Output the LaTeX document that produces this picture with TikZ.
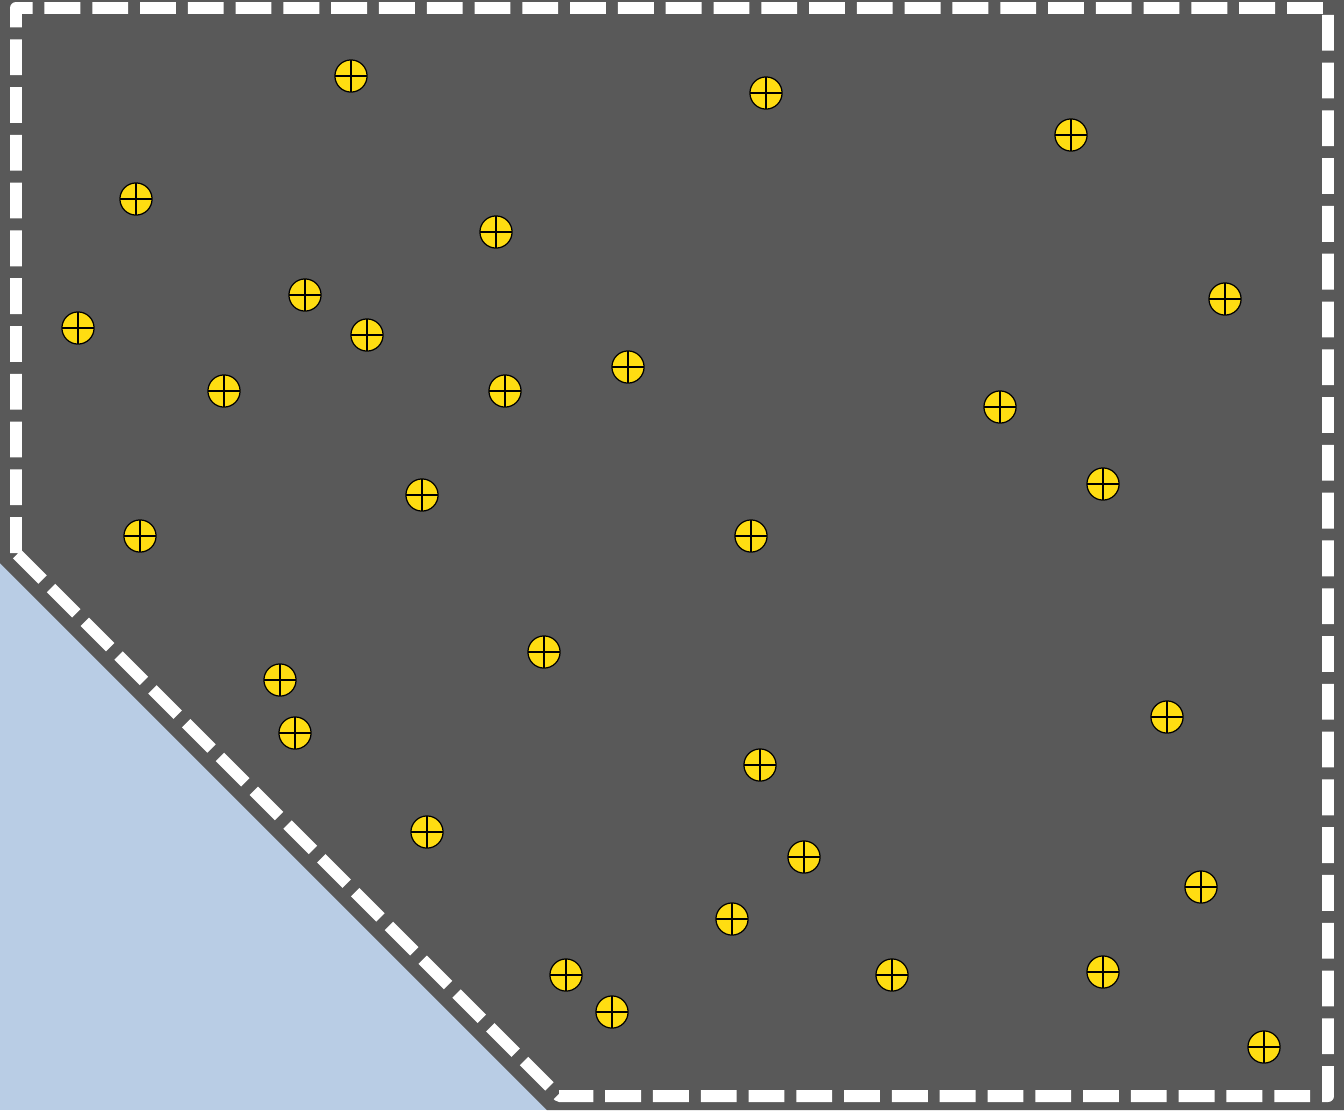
\documentclass[tikz,border=0pt]{standalone}
\usepackage{xcolor}

\definecolor{sitegray}{HTML}{595959}
\definecolor{waterblue}{HTML}{B9CDE5}
\definecolor{treeyellow}{HTML}{FFDD11}

\tikzset{
  tree/.style={circle,draw=black,line width=0.7pt,fill=treeyellow,
    minimum size=18.3pt,inner sep=0pt,
    path picture={
      \draw[line width=0.7pt] (path picture bounding box.north) -- (path picture bounding box.south);
      \draw[line width=0.7pt] (path picture bounding box.west) -- (path picture bounding box.east);
    }},
  fence/.style={draw=white,line width=6.8pt,dash pattern=on 20.4pt off 6.8pt,line join=round}
}

\begin{document}
\begin{tikzpicture}[x=0.02cm,y=-0.02cm]
  \useasboundingbox (0,0) rectangle (1344,1110);
  \fill[waterblue] (0,0) rectangle (1344,1110);
  \fill[sitegray] (0,0) -- (1344,0) -- (1344,1110) -- (547,1110) -- (0,563) -- cycle;

  \coordinate (c1) at (16,553);
  \coordinate (c2) at (16,8);
  \coordinate (c3) at (1328,8);
  \coordinate (c4) at (1328,1096);
  \coordinate (c5) at (559,1096);
  \draw[fence] (c1) -- (c2) -- (c3) -- (c4) -- (c5) -- cycle;

  \foreach \x/\y [count=\i] in {351/76,766/93,1071/135,136/199,496/232,1225/299,
      305/295,78/328,367/335,224/391,505/391,628/367,1000/407,1103/484,422/495,
      140/536,751/536,544/652,280/680,295/733,1167/717,760/765,427/832,804/857,
      1201/887,732/919,566/975,892/975,1103/972,612/1012,1264/1047}
    \node[tree] (t\i) at (\x,\y) {};
\end{tikzpicture}
\end{document}
